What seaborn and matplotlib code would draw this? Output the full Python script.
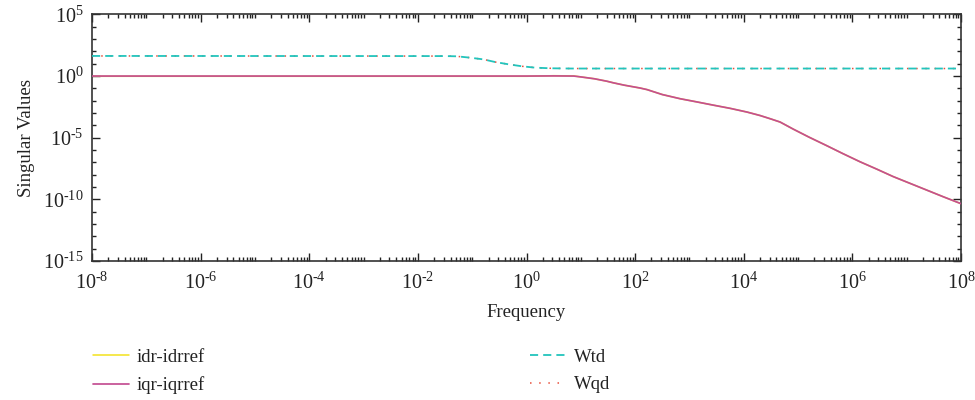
import numpy as np
import pandas as pd
import matplotlib
matplotlib.use("Agg")
import matplotlib.pyplot as plt
import seaborn as sns
from matplotlib.ticker import FixedLocator, FuncFormatter, NullFormatter

# ---- data (log10 of frequency, log10 of singular value) ----
iqr_logf = [-8, 0, 0.5, 0.87, 1.0, 1.25, 1.48, 1.6, 1.8, 2.09, 2.22, 2.5, 2.83, 3.14,
            3.44, 3.75, 4.06, 4.3, 4.5, 4.67, 4.91, 5.2, 5.53, 5.83, 6.14, 6.45,
            6.75, 7.06, 7.37, 7.68, 8.0]
iqr_logsv = [0, 0, 0.01, 0, -0.07, -0.22, -0.42, -0.55, -0.74, -0.97, -1.1, -1.5, -1.84,
             -2.1, -2.36, -2.62, -2.92, -3.2, -3.48, -3.73, -4.3, -4.95, -5.65, -6.3,
             -6.95, -7.55, -8.15, -8.7, -9.25, -9.8, -10.35]
idr_logf = [-8, 0, 0.5, 0.87, 1.0, 1.25, 1.48, 1.6, 1.8, 2.09, 2.22, 2.5, 2.83, 3.14,
            3.44, 3.75, 4.06, 4.3, 4.5, 4.67, 4.91, 5.2, 5.53, 5.83, 6.14, 6.45,
            6.75, 7.06, 7.37, 7.68, 8.0]
idr_logsv = [-0.02, -0.02, 0.03, 0.01, -0.07, -0.22, -0.42, -0.55, -0.74, -0.97, -1.1, -1.5,
             -1.84, -2.1, -2.36, -2.62, -2.92, -3.2, -3.48, -3.73, -4.3, -4.95, -5.65,
             -6.3, -6.95, -7.55, -8.15, -8.7, -9.25, -9.8, -10.35]
wtd_logf = [-8, -1.5, -1.28, -1.04, -0.79, -0.58, -0.33, -0.08, 0.16, 0.44, 0.8, 8]
wtd_logsv = [1.63, 1.62, 1.6, 1.49, 1.35, 1.14, 0.95, 0.79, 0.68, 0.63, 0.61, 0.61]
wqd_logf = [-8, -1.5, -1.28, -1.04, -0.79, -0.58, -0.33, -0.08, 0.16, 0.44, 0.8, 8]
wqd_logsv = [1.63, 1.62, 1.6, 1.49, 1.35, 1.14, 0.95, 0.79, 0.68, 0.63, 0.61, 0.61]

labels = ["idr-idrref", "iqr-iqrref", "Wtd", "Wqd"]
xtick_exp = [-8, -6, -4, -2, 0, 2, 4, 6, 8]
ytick_exp = [-15, -10, -5, 0, 5]

sns.set_style("ticks")
plt.rcParams["font.family"] = ["Liberation Serif", "DejaVu Serif"]
plt.rcParams["mathtext.fontset"] = "custom"
plt.rcParams["mathtext.rm"] = "Liberation Serif"
plt.rcParams["mathtext.it"] = "Liberation Serif:italic"
plt.rcParams["axes.unicode_minus"] = False

fig = plt.figure(figsize=(9.75, 4.0), dpi=100)
ax = fig.add_axes([0.0944, 0.3475, 0.8912, 0.6165])
ax.set_xscale("log")
ax.set_yscale("log")

def df(lf, lv):
    return pd.DataFrame({"f": np.power(10.0, lf), "sv": np.power(10.0, lv)})

sns.lineplot(data=df(idr_logf, idr_logsv), x="f", y="sv", ax=ax, color="#f2e21c",
             lw=1.1, label=labels[0], sort=False, zorder=2)
sns.lineplot(data=df(iqr_logf, iqr_logsv), x="f", y="sv", ax=ax, color="#c44e92",
             lw=1.25, label=labels[1], sort=False, zorder=3)
sns.lineplot(data=df(wtd_logf, wtd_logsv), x="f", y="sv", ax=ax, color="#22c4bc",
             lw=1.3, label=labels[2], sort=False, linestyle=(0, (4.5, 2.8)), zorder=4)
sns.lineplot(data=df(wqd_logf, wqd_logsv), x="f", y="sv", ax=ax, color="#e8503c",
             lw=1.1, label=labels[3], sort=False, linestyle=(0, (1, 5)), zorder=2)

ax.set_xlim(1e-8, 1e8)
ax.set_ylim(1e-15, 1e5)


def pow_fmt(v, pos):
    e = int(round(np.log10(v)))
    if e < 0:
        return r"$10^{\text{-%d}}$" % (-e)
    return r"$10^{%d}$" % e


ax.xaxis.set_major_locator(FixedLocator([10.0 ** e for e in xtick_exp]))
ax.xaxis.set_minor_locator(FixedLocator([m * 10.0 ** e for e in range(-8, 8)
                                         for m in range(1, 10)
                                         if not (m == 1 and e % 2 == 0)]))
ax.yaxis.set_major_locator(FixedLocator([10.0 ** e for e in ytick_exp]))
ax.yaxis.set_minor_locator(FixedLocator([10.0 ** e for e in range(-15, 6)
                                         if e % 5 != 0]))
ax.xaxis.set_major_formatter(FuncFormatter(pow_fmt))
ax.yaxis.set_major_formatter(FuncFormatter(pow_fmt))
ax.xaxis.set_minor_formatter(NullFormatter())
ax.yaxis.set_minor_formatter(NullFormatter())

ax.tick_params(which="both", direction="in", top=True, right=True,
               colors="#222222", labelsize=14.5, width=1.0)
ax.tick_params(axis="x", which="major", length=6, pad=8)
ax.tick_params(axis="y", which="major", length=6, pad=6)
ax.tick_params(which="minor", length=3)
for s in ax.spines.values():
    s.set_linewidth(1.2)
    s.set_color("#333333")

ax.set_xlabel("Frequency", fontsize=13.5, color="#222222", labelpad=8)
ax.set_ylabel("Singular Values", fontsize=13.5, color="#222222", labelpad=6)

h, l = ax.get_legend_handles_labels()
ax.legend_.remove()
fig.legend(h, l, ncol=2, frameon=False, loc="upper left",
           bbox_to_anchor=(0.078, 0.17), fontsize=13.5, handlelength=1.9,
           handletextpad=0.45, columnspacing=17.3, labelspacing=0.55,
           labelcolor="#222222")

fig.savefig("out.png", dpi=100)
